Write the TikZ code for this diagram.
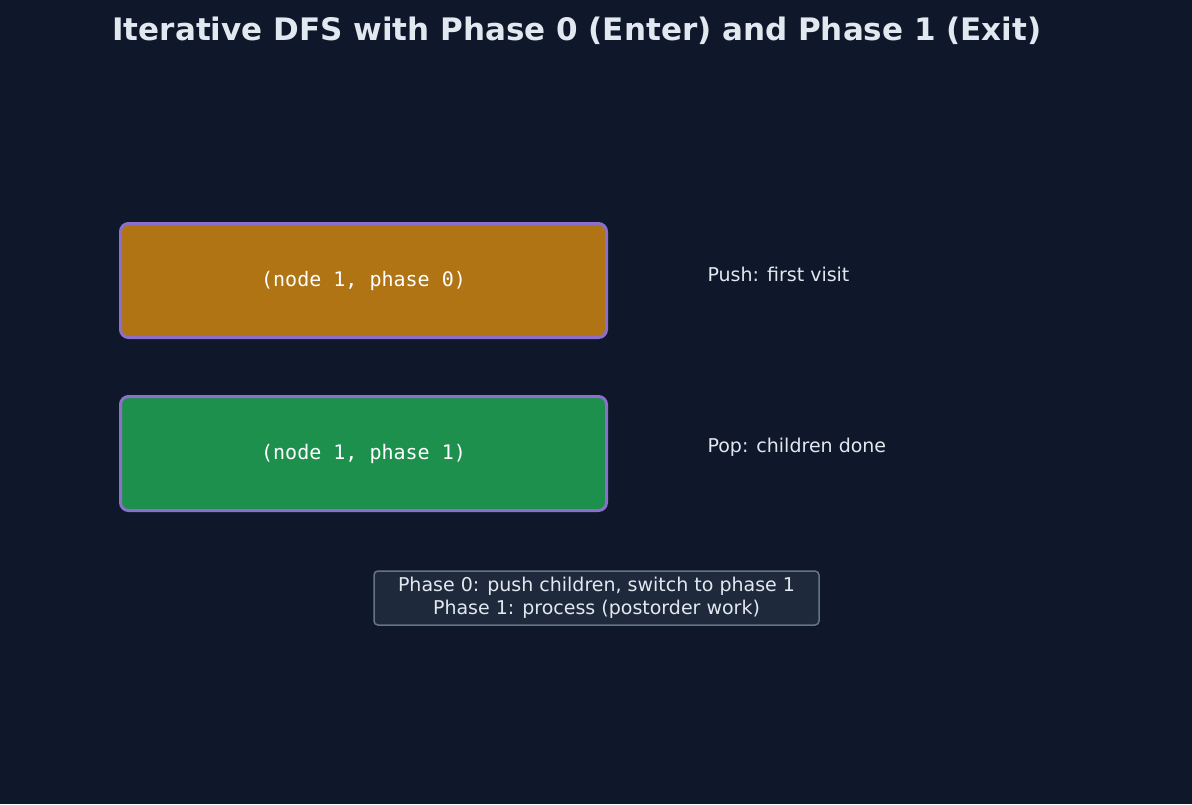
\documentclass[tikz,border=0pt]{standalone}
\usepackage{fontspec}
\setmainfont{DejaVu Sans}
\newfontfamily\monof{DejaVu Sans Mono}
\definecolor{bg}{HTML}{0F172A}
\definecolor{txt}{HTML}{E2E8F0}
\definecolor{pur}{HTML}{8B6FCB}
\definecolor{org}{HTML}{B07415}
\definecolor{grn}{HTML}{1E904E}
\definecolor{notebg}{HTML}{1E293B}
\definecolor{notebd}{HTML}{64748B}
\begin{document}
\begin{tikzpicture}[x=1pt,y=-1pt,
  stackbox/.style={draw=pur,line width=3pt,rounded corners=8pt,minimum width=486pt,minimum height=114pt,text=white,font=\monof\fontsize{20}{24}\selectfont},
  lbl/.style={text=txt,anchor=west,font=\fontsize{19}{23}\selectfont}]
\fill[bg] (0,0) rectangle (1192,804);
\useasboundingbox (0,0) rectangle (1192,804);
\node[text=txt,font=\bfseries\fontsize{31}{36}\selectfont] (title) at (577,31) {Iterative DFS with Phase 0 (Enter) and Phase 1 (Exit)};
\node[stackbox,fill=org] (p0) at (363.5,280.5) {(node 1, phase 0)};
\node[stackbox,fill=grn] (p1) at (363.5,453.5) {(node 1, phase 1)};
\node[lbl] (l0) at (704,274) {Push: first visit};
\node[lbl] (l1) at (704,447) {Pop: children done};
\node[draw=notebd,line width=1.5pt,fill=notebg,rounded corners=4pt,text=txt,align=center,minimum width=445pt,minimum height=54pt,inner sep=2pt,font=\fontsize{19}{23}\selectfont] (note) at (596.5,598) {Phase 0: push children, switch to phase 1\\Phase 1: process (postorder work)};
\end{tikzpicture}
\end{document}
